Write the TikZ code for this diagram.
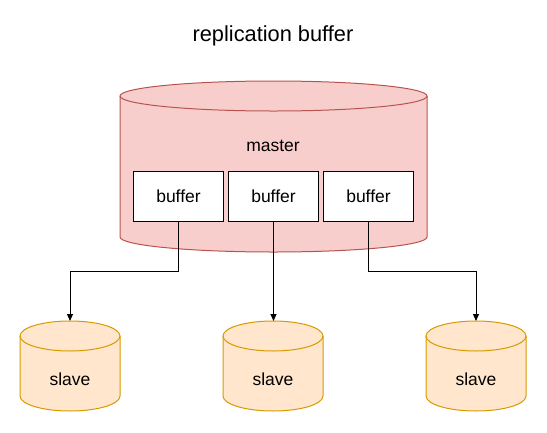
\documentclass[tikz,border=0pt]{standalone}
\usepackage{fontspec}
\setmainfont{Liberation Sans}
\usetikzlibrary{arrows.meta}
\definecolor{mfill}{HTML}{F8CECC}
\definecolor{mline}{HTML}{B85450}
\definecolor{sfill}{HTML}{FFE6CC}
\definecolor{sline}{HTML}{D79B00}
\tikzset{
  x=1pt, y=-1pt,
  bufbox/.style={draw=black, fill=white, line width=1pt, minimum width=90pt, minimum height=50pt, inner sep=0pt, font=\fontsize{17.5}{20}\selectfont},
  lbl/.style={inner sep=0pt, font=\fontsize{17.5}{20}\selectfont},
  conn/.style={draw=black, line width=1pt, -{Triangle[length=7pt,width=6pt]}},
}
\newcommand{\mycyl}[7]{% x1, x2, ytop, ybot, ry, fill, line
  \pgfmathsetmacro{\cx}{(#1+#2)/2}
  \pgfmathsetmacro{\rx}{(#2-#1)/2}
  \fill[#6] (#1,#3+#5) arc[start angle=180, end angle=360, x radius=\rx, y radius=-#5]
     -- (#2,#4-#5) arc[start angle=0, end angle=-180, x radius=\rx, y radius=-#5] -- cycle;
  \fill[#6] (\cx,#3+#5) ellipse[x radius=\rx, y radius=#5];
  \draw[#7, line width=1pt] (#1,#3+#5) -- (#1,#4-#5)
     arc[start angle=180, end angle=360, x radius=\rx, y radius=-#5] -- (#2,#3+#5);
  \draw[#7, line width=1pt] (\cx,#3+#5) ellipse[x radius=\rx, y radius=#5];
}
\begin{document}
\begin{tikzpicture}
\useasboundingbox (0,0) rectangle (547,432);
\node[lbl, font=\fontsize{21.8}{24}\selectfont] (title) at (273,36) {replication buffer};
% master
\mycyl{120}{427}{81}{252}{15}{mfill}{mline}
\node[lbl] (master) at (273,146) {master};
\node[bufbox] (b1) at (178.5,196) {buffer};
\node[bufbox] (b2) at (273.5,196) {buffer};
\node[bufbox] (b3) at (368.5,196) {buffer};
% slaves
\mycyl{20}{120}{321}{411}{15}{sfill}{sline}
\mycyl{223}{323}{321}{411}{15}{sfill}{sline}
\mycyl{426}{526}{321}{411}{15}{sfill}{sline}
\coordinate (s1) at (70,321);
\coordinate (s2) at (273.5,321);
\coordinate (s3) at (476,321);
\node[lbl] (sl1) at (70,379) {slave};
\node[lbl] (sl2) at (273,379) {slave};
\node[lbl] (sl3) at (476,379) {slave};
% connectors
\draw[conn] (b1.south) -- (178.5,271) -| (s1);
\draw[conn] (b2.south) -- (s2);
\draw[conn] (b3.south) -- (368.5,271) -| (s3);
\end{tikzpicture}
\end{document}
